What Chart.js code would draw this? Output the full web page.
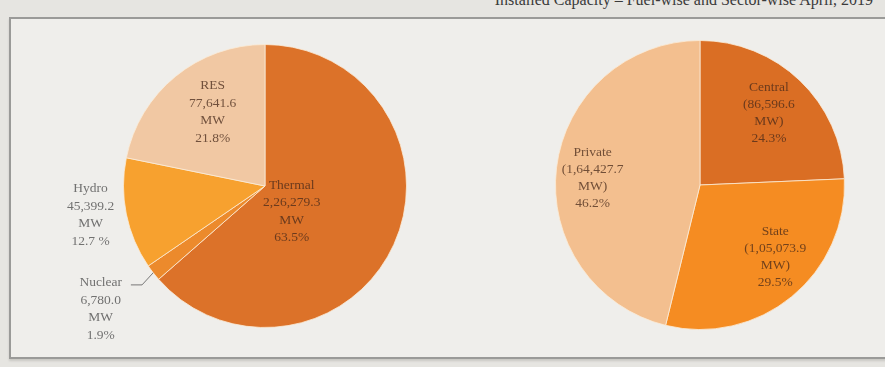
<!DOCTYPE html>
<html>
<head>
<meta charset="utf-8">
<script src="https://cdn.jsdelivr.net/npm/chart.js@4.4.1/dist/chart.umd.min.js"></script>
<style>
    body { margin: 0; width: 885px; height: 367px; overflow: hidden; background: #e6e5e1; position: relative; }
    #title { position: absolute; top: -9px; right: 12px; font: 16px "Liberation Serif", serif; color: #3a3a3a; white-space: nowrap; }
    #box { position: absolute; left: 9px; top: 17px; width: 890px; height: 338px; border: 2px solid #9a9a98; background: #efeeeb; box-shadow: 0 2px 2px #c9c8c4; }
    #fuelChart { position: absolute; left: 40px; top: 26px; }
    #sectorChart { position: absolute; left: 520px; top: 25px; }
</style>
</head>
<body>
<div id="title">Installed Capacity – Fuel-wise and Sector-wise April, 2019</div>
<div id="box"></div>
<canvas id="fuelChart" width="450" height="320"></canvas>
<canvas id="sectorChart" width="360" height="320"></canvas>
<script>
// ===================== Data =====================
const fuelNames = ["Thermal", "Nuclear", "Hydro", "RES"];
const fuelMW = [226279.3, 6780.0, 45399.2, 77641.6];
const fuelMWText = ["2,26,279.3", "6,780.0", "45,399.2", "77,641.6"];
const fuelPct = ["63.5%", "1.9%", "12.7 %", "21.8%"];

const sectorNames = ["Central", "State", "Private"];
const sectorMW = [86596.6, 105073.9, 164427.7];
const sectorMWText = ["(86,596.6", "(1,05,073.9", "(1,64,427.7"];
const sectorPct = ["24.3%", "29.5%", "46.2%"];
// ===================== Data =====================

// draws the text labels next to each slice
const sliceLabels = {
    id: 'sliceLabels',
    afterDatasetsDraw(chart, args, opts) {
        const ctx = chart.ctx;
        const arcs = chart.getDatasetMeta(0).data;
        ctx.save();
        ctx.font = '13.5px "Liberation Serif", serif';
        ctx.textAlign = 'center';
        ctx.textBaseline = 'middle';
        arcs.forEach((arc, i) => {
            const p = arc.getProps(['x', 'y', 'startAngle', 'endAngle', 'outerRadius'], true);
            const a = (p.startAngle + p.endAngle) / 2 + (opts.shift[i] || 0) * Math.PI / 180;
            const rr = p.outerRadius * opts.dist[i];
            const cx = p.x + Math.cos(a) * rr;
            const cy = p.y + Math.sin(a) * rr;
            const lines = opts.lines[i];
            ctx.fillStyle = opts.dist[i] > 1 ? 'rgba(90,90,90,0.85)' : 'rgba(70,40,25,0.75)';
            lines.forEach((t, k) => {
                ctx.fillText(t, cx, cy + (k - (lines.length - 1) / 2) * opts.lineGap);
            });
            if (opts.leader && opts.leader[i]) {
                const m = (p.startAngle + p.endAngle) / 2;
                ctx.strokeStyle = 'rgba(90,90,90,0.8)';
                ctx.lineWidth = 1;
                ctx.beginPath();
                ctx.moveTo(p.x + Math.cos(m) * p.outerRadius, p.y + Math.sin(m) * p.outerRadius);
                ctx.lineTo(p.x + Math.cos(m) * p.outerRadius * 1.1, p.y + Math.sin(m) * p.outerRadius * 1.14);
                ctx.lineTo(p.x + Math.cos(m) * p.outerRadius * 1.2, p.y + Math.sin(m) * p.outerRadius * 1.14);
                ctx.stroke();
            }
        });
        ctx.restore();
    }
};

function makePie(id, names, values, colors, pad, labelOpts) {
    return new Chart(document.getElementById(id), {
        type: 'pie',
        data: {
            labels: names,
            datasets: [{
                data: values,
                backgroundColor: colors,
                borderColor: 'rgba(250,235,215,0.8)',
                borderWidth: 1
            }]
        },
        options: {
            responsive: false,
            animation: false,
            layout: { padding: pad },
            plugins: {
                legend: { display: false },
                tooltip: { enabled: false },
                sliceLabels: labelOpts
            }
        },
        plugins: [sliceLabels]
    });
}

makePie('fuelChart', fuelNames, fuelMW,
    ['#dc7229', '#ec8a2c', '#f7a12f', '#f1c8a3'], 18,
    {
        lines: fuelNames.map((n, i) => [n, fuelMWText[i], 'MW', fuelPct[i]]),
        dist: [0.26, 1.45, 1.25, 0.64],
        shift: [19, 1, 2, 4],
        leader: [false, true, false, false],
        lineGap: 17.5
    });

makePie('sectorChart', sectorNames, sectorMW,
    ['#da6e24', '#f58c22', '#f3bf8f'], 15,
    {
        lines: sectorNames.map((n, i) => [n, sectorMWText[i], 'MW)', sectorPct[i]]),
        dist: [0.69, 0.72, 0.745],
        shift: [0, -7, -3],
        lineGap: 17
    });
</script>
</body>
</html>
